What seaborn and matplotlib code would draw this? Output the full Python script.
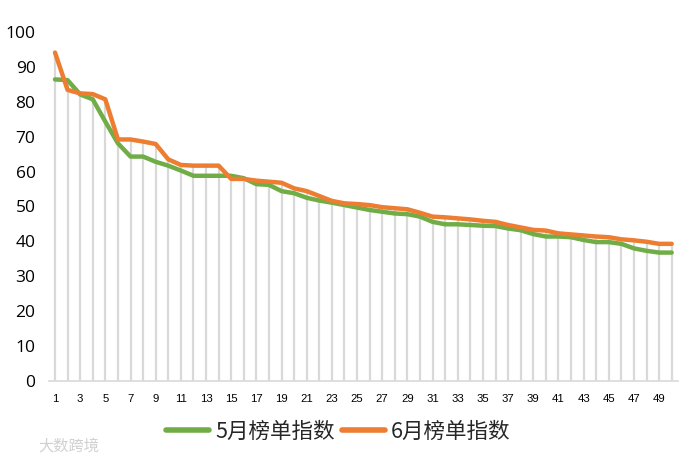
import numpy as np
import pandas as pd
import matplotlib
matplotlib.use("Agg")
import matplotlib.pyplot as plt
import seaborn as sns

ranks = list(range(1, 51))
may_index = [86.4, 86.2, 82.1, 80.7, 74.3, 68.1, 64.3, 64.3, 62.8, 61.7,
             60.3, 58.8, 58.8, 58.8, 58.8, 58.1, 56.4, 56.2, 54.4, 53.8,
             52.5, 51.7, 51.1, 50.4, 49.7, 49.0, 48.5, 48.0, 47.8, 47.1,
             45.6, 44.9, 44.9, 44.7, 44.5, 44.4, 43.7, 43.2, 42.1, 41.4,
             41.4, 41.2, 40.4, 39.8, 39.8, 39.3, 38.0, 37.3, 36.8, 36.8]
june_index = [94.1, 83.4, 82.4, 82.2, 80.7, 69.2, 69.2, 68.6, 67.9, 63.5,
              61.9, 61.7, 61.7, 61.7, 57.9, 57.9, 57.4, 57.1, 56.8, 55.2,
              54.4, 53.0, 51.6, 50.9, 50.7, 50.4, 49.8, 49.5, 49.2, 48.2,
              47.1, 46.9, 46.6, 46.3, 45.9, 45.6, 44.7, 44.0, 43.3, 43.1,
              42.3, 42.0, 41.7, 41.4, 41.2, 40.6, 40.3, 39.9, 39.3, 39.3]
series_names = ["5月榜单指数", "6月榜单指数"]
colors = ["#70AD47", "#ED7D31"]
y_ticks = [0, 10, 20, 30, 40, 50, 60, 70, 80, 90, 100]
x_ticks = list(range(1, 50, 2))

df = pd.DataFrame({
    "rank": ranks * 2,
    "value": may_index + june_index,
    "series": [series_names[0]] * len(ranks) + [series_names[1]] * len(ranks),
})

sns.set_theme(style="white")
plt.rcParams["font.family"] = ["Open Sans", "Noto Sans CJK SC", "DejaVu Sans"]

fig = plt.figure(figsize=(6.83, 4.63), dpi=100)
ax = fig.add_axes([0.0713, 0.177, 0.9214, 0.754])

# drop lines
tops = np.maximum(np.array(may_index), np.array(june_index))
ax.vlines(ranks, 0, tops, color="#d9d9d9", linewidth=1.6, zorder=1)

sns.lineplot(data=df, x="rank", y="value", hue="series", palette=colors,
             linewidth=3.2, ax=ax, zorder=3, legend=True)

ax.set_xlim(0.5, 50.5)
ax.set_ylim(0, 100)
ax.set_yticks(y_ticks)
ax.set_yticklabels([str(v) for v in y_ticks], fontsize=12.5, color="#000000")
ax.set_xticks(x_ticks)
ax.set_xticklabels([str(v) for v in x_ticks], fontsize=8.2, color="#000000",
                   family=["Liberation Sans Narrow", "Liberation Sans", "DejaVu Sans"])
ax.tick_params(axis="y", length=0, pad=9.5)
ax.tick_params(axis="x", length=0, pad=9)
ax.set_xlabel("")
ax.set_ylabel("")
for s in ["top", "right", "left"]:
    ax.spines[s].set_visible(False)
ax.spines["bottom"].set_color("#d9d9d9")
ax.spines["bottom"].set_linewidth(1.2)
ax.grid(False)

handles, labels = ax.get_legend_handles_labels()
ax.legend(handles, labels, loc="center", bbox_to_anchor=(0.4956, 0.067),
          bbox_transform=fig.transFigure, ncol=2, frameon=False,
          prop={"family": ["Noto Sans CJK SC", "DejaVu Sans"], "size": 15.5},
          handlelength=2.0, handletextpad=0.28, columnspacing=0.33,
          borderpad=0.0)
leg = ax.get_legend()
for line in leg.get_lines():
    line.set_linewidth(4)

fig.text(0.056, 0.028, "大数跨境", fontsize=11, color="#d0d0d0",
         family=["Noto Sans CJK SC", "DejaVu Sans"])

fig.savefig("out.png", dpi=100)
